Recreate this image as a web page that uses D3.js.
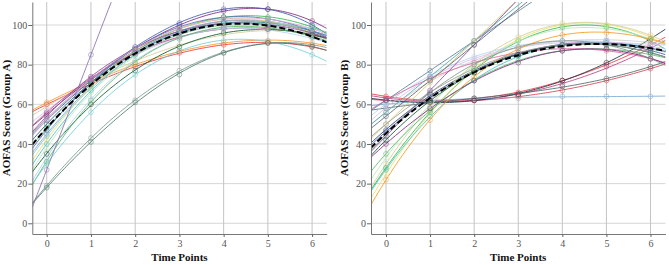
<!DOCTYPE html>
<html>
<head>
<meta charset="utf-8">
<script src="https://d3js.org/d3.v7.min.js"></script>
<style>
    body { margin: 0; background: #fff; }
    svg { display: block; }
</style>
</head>
<body>
<svg id="drawing_region"></svg>
<script>
// scores per patient at time points 0..6 (null = no visit)
const timePoints = [0, 1, 2, 3, 4, 5, 6];
const yTicks = [0, 20, 40, 60, 80, 100];

const groupA = [
    [60, 70, 79, 86, 90, 91, 89],
    [61, 71, 80, 87, 91, 92, 91],
    [59, 71, 82, 90, 95, 97, 96],
    [57, 72, 85, 94, 99, 100, 97],
    [55, 73, 88, 100, 107, 108, 102],
    [52, 72, 89, 101, 108, 108, 100],
    [48, 70, 87, 98, 104, 104, 99],
    [50, 71, 86, 96, 101, 101, 97],
    [45, 69, 86, 97, 102, 102, 97],
    [40, 67, 85, 96, 101, 100, 94],
    [38, 66, 84, 95, 100, 99, 95],
    [42, 69, 87, 98, 103, 102, 96],
    [56, 73, 86, 94, 98, 98, 95],
    [53, 72, 87, 97, 102, 101, 96],
    [35, 60, 77, 89, 96, 98, 95],
    [33, 63, 82, 93, 98, 98, 93],
    [31, 62, 81, 93, 99, 99, 94],
    [47, 71, 88, 99, 104, 103, 97],
    [54, 74, 88, 97, 101, 100, 96],
    [30, 56, 75, 87, 92, 92, 85],
    [19, 43, 62, 77, 86, 91, 90],
    [18, 41, 61, 75, 86, 91, 89],
    [27, 85, null, null, null, null, null],
    [52, 73, 88, 98, 103, 103, 98],
    [44, 68, 85, 95, 100, 101, 98]
];

const groupB = [
    [47, 65, 77, 85, 90, 92, 88],
    [46, 64, 76, 85, 90, 91, 87],
    [64, 62, 63, 66, 72, 80, 90],
    [63, 62, 62, 65, 70, 79, 88],
    [62, 61, 62, 64, 67, 72, 78],
    [62, 61, 62, 65, 72, 81, 93],
    [60, 62, 63, 63, 64, 64, 64],
    [58, 61, 63, 65, 69, 73, 79],
    [28, 56, 77, 92, 99, 99, 92],
    [25, 55, 78, 93, 100, 100, 94],
    [30, 59, 80, 94, 101, 100, 95],
    [33, 60, 79, 92, 98, 98, 93],
    [27, 54, 72, 84, 90, 91, 88],
    [35, 57, 72, 82, 87, 88, 85],
    [60, 75, 84, 89, 92, 92, 89],
    [58, 74, 83, 88, 91, 92, 90],
    [56, 72, 82, 88, 92, 93, 91],
    [62, 73, 81, 86, 88, 87, 83],
    [40, 58, 72, 81, 87, 88, 83],
    [62, 77, 92, null, null, null, null],
    [56, 74, 92, null, null, null, null],
    [50, 71, 92, null, null, null, null],
    [44, 67, 90, null, null, null, null],
    [54, 72, 90, null, null, null, null],
    [22, 52, 74, 88, 95, 96, 93],
    [42, 62, 76, 85, 90, 90, 86],
    [45, 66, 80, 89, 92, 90, 83],
    [50, 66, 78, 86, 90, 90, 86]
];

const meanA = [48, 70, 86, 95, 100.5, 100, 94];
const meanB = [45, 64, 76, 84, 89.5, 91, 88];

const paletteA = ['#ef3338', '#f8981d', '#d3ce97', '#ddbaf1', '#7c287d', '#3e58ac', '#2eb848', '#1a5f76',
    '#7aaad5', '#48c2c5', '#b8e8b8', '#e8e070', '#bb3f7f', '#999999', '#0a562c', '#b3d2ef',
    '#5cb86a', '#5068b8', '#8a4a9a', '#6fd0d8', '#7a9a8a', '#4a7a6a', '#8a70b0', '#e0a8d0', '#88c8c0'];
const paletteB = ['#2a3a6a', '#3e58ac', '#ef3338', '#bb3f7f', '#d84050', '#1a2a40', '#7aaad5', '#4a6a6a',
    '#2eb848', '#e8e070', '#d3ce97', '#b8e8b8', '#48c2c5', '#5cb86a', '#b3d2ef', '#ddbaf1',
    '#cccccc', '#e060a0', '#7c287d', '#5a7a9a', '#48a8a8', '#d8c870', '#8a4a9a', '#556070',
    '#f8981d', '#0a562c', '#7a9a8a', '#999999'];

const serif = '"Liberation Serif", "Times New Roman", "DejaVu Serif", serif';

// least squares polynomial fit
function polyfit(xs, ys, deg) {
    const n = deg + 1;
    const M = d3.range(n).map(() => d3.range(n + 1).map(() => 0));
    xs.forEach((x, k) => {
        for (let i = 0; i < n; i++) {
            for (let j = 0; j < n; j++) M[i][j] += Math.pow(x, i + j);
            M[i][n] += Math.pow(x, i) * ys[k];
        }
    });
    for (let c = 0; c < n; c++) {
        let p = c;
        for (let r = c + 1; r < n; r++) if (Math.abs(M[r][c]) > Math.abs(M[p][c])) p = r;
        [M[c], M[p]] = [M[p], M[c]];
        for (let r = 0; r < n; r++) {
            if (r === c) continue;
            const f = M[r][c] / M[c][c];
            for (let j = c; j <= n; j++) M[r][j] -= f * M[c][j];
        }
    }
    const coef = d3.range(n).map(i => M[i][n] / M[i][i]);
    return x => coef.reduce((s, a, i) => s + a * Math.pow(x, i), 0);
}

class FitChart {
    constructor(config, series, mean, colors) {
        this.config = config;
        this.series = series;
        this.mean = mean;
        this.colors = colors;
        this.init();
    }

    init() {
        let self = this;
        const c = self.config;

        self.g = d3.select('#drawing_region').append('g');

        self.xscale = d3.scaleLinear().domain(c.xdomain).range([c.left, c.right]);
        self.yscale = d3.scaleLinear().domain([-5.4, 111.6]).range([c.bottom, c.top]);

        // grid
        self.g.append('g').selectAll('line').data(yTicks).join('line')
            .attr('x1', c.left).attr('x2', c.right)
            .attr('y1', d => self.yscale(d)).attr('y2', d => self.yscale(d))
            .attr('stroke', '#d6d6d6');
        self.g.append('g').selectAll('line').data(timePoints).join('line')
            .attr('x1', d => self.xscale(d)).attr('x2', d => self.xscale(d))
            .attr('y1', c.top).attr('y2', c.bottom)
            .attr('stroke', '#c4c4c4');

        self.clipId = 'clip' + c.id;
        self.g.append('clipPath').attr('id', self.clipId)
            .append('rect')
            .attr('x', c.left).attr('y', c.top)
            .attr('width', c.right - c.left).attr('height', c.bottom - c.top);

        self.plot = self.g.append('g').attr('clip-path', `url(#${self.clipId})`);

        self.xaxis = d3.axisBottom(self.xscale).tickValues(timePoints).tickFormat(d3.format('d'))
            .tickSize(3).tickPadding(3).tickSizeOuter(0);
        self.yaxis = d3.axisLeft(self.yscale).tickValues(yTicks).tickFormat(d3.format('d'))
            .tickSize(4).tickPadding(1).tickSizeOuter(0);

        self.xaxis_group = self.g.append('g')
            .attr('transform', `translate(0, ${c.bottom})`)
            .call(self.xaxis);
        self.yaxis_group = self.g.append('g')
            .attr('transform', `translate(${c.left}, 0)`)
            .call(self.yaxis);
        [self.xaxis_group, self.yaxis_group].forEach(a => {
            a.attr('font-family', serif).attr('font-size', 10);
            a.select('.domain').attr('stroke', '#777');
            a.selectAll('.tick line').attr('stroke', '#666');
            a.selectAll('.tick text').attr('fill', '#555');
        });

        self.g.append('text')
            .attr('font-family', serif)
            .attr('font-weight', 'bold')
            .attr('font-size', 11)
            .attr('fill', '#111')
            .attr('text-anchor', 'middle')
            .attr('x', (c.left + c.right) / 2)
            .attr('y', 261)
            .text('Time Points');

        self.g.append('text')
            .attr('font-family', serif)
            .attr('font-weight', 'bold')
            .attr('font-size', 11)
            .attr('fill', '#111')
            .attr('text-anchor', 'middle')
            .attr('transform', `translate(${c.titleX}, 118) rotate(-90)`)
            .text(c.ylabel);
    }

    curve(values) {
        let self = this;
        const pts = timePoints.map((t, i) => [t, values[i]]).filter(p => p[1] !== null);
        const f = polyfit(pts.map(p => p[0]), pts.map(p => p[1]), Math.min(3, pts.length - 1));
        const [x0, x1] = self.xscale.domain();
        const xs = d3.range(121).map(i => x0 + (x1 - x0) * i / 120);
        return d3.line()
            .x(d => self.xscale(d))
            .y(d => self.yscale(f(d)))(xs);
    }

    render() {
        let self = this;

        self.plot.append('g').selectAll('path').data(self.series).join('path')
            .attr('d', d => self.curve(d))
            .attr('fill', 'none')
            .attr('stroke', (d, i) => self.colors[i % self.colors.length])
            .attr('stroke-width', 1)
            .attr('opacity', 0.85);

        const points = [];
        self.series.forEach((s, i) => s.forEach((v, t) => {
            if (v !== null) points.push({ t: timePoints[t], v: v, i: i });
        }));
        self.plot.append('g').selectAll('circle').data(points).join('circle')
            .attr('cx', d => self.xscale(d.t))
            .attr('cy', d => self.yscale(d.v))
            .attr('r', 2.4)
            .attr('fill', 'none')
            .attr('stroke', d => self.colors[d.i % self.colors.length])
            .attr('opacity', 0.5);

        self.plot.append('path')
            .attr('d', self.curve(self.mean))
            .attr('fill', 'none')
            .attr('stroke', '#000')
            .attr('stroke-width', 2)
            .attr('stroke-dasharray', '6,3');
    }
}

d3.select('#drawing_region').attr('width', 669).attr('height', 265);

const chartA = new FitChart({
    id: 'A', left: 32.3, right: 326.7, top: 2, bottom: 234,
    xdomain: [-0.326, 6.33], titleX: 10, ylabel: 'AOFAS Score (Group A)'
}, groupA, meanA, paletteA);
chartA.render();

const chartB = new FitChart({
    id: 'B', left: 371, right: 665.5, top: 2, bottom: 234,
    xdomain: [-0.34, 6.34], titleX: 348, ylabel: 'AOFAS Score (Group B)'
}, groupB, meanB, paletteB);
chartB.render();
</script>
</body>
</html>
